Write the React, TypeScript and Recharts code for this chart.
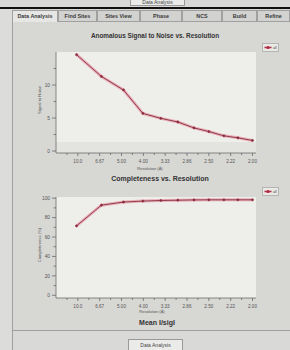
import React from "react";
import { LineChart, Line, XAxis, YAxis, CartesianGrid, ReferenceArea, Legend, Label } from "recharts";

// ---- data ----
const resolutionTickValues = [0.1, 0.15, 0.2, 0.25, 0.3, 0.35, 0.4, 0.45, 0.5];
const resolutionTickLabels = ["10.0", "6.67", "5.00", "4.00", "3.33", "2.86", "2.50", "2.22", "2.00"];
const resolutionMinorTicks = [0.075, 0.1, 0.125, 0.15, 0.175, 0.2, 0.225, 0.25, 0.275, 0.3, 0.325, 0.35, 0.375, 0.4, 0.425, 0.45, 0.475, 0.5];
const shellInvRes = [0.097, 0.154, 0.2045, 0.249, 0.29, 0.329, 0.366, 0.4, 0.4345, 0.4665, 0.5];
const signalToNoise = [14.6, 11.3, 9.25, 5.7, 4.95, 4.4, 3.5, 2.95, 2.3, 2.0, 1.6];
const completeness = [71.4, 92.8, 96.0, 97.0, 97.6, 97.9, 98.2, 98.3, 98.3, 98.3, 98.3];
const snTicks = [0, 2.5, 5, 7.5, 10, 12.5];
const compTicks = [0, 10, 20, 30, 40, 50, 60, 70, 80, 90, 100];
const tabLabels = ["Data Analysis", "Find Sites", "Sites View", "Phase", "NCS", "Build", "Refine"];
const seriesName = "all";

const snData = shellInvRes.map((s, i) => ({ s, v: signalToNoise[i] }));
const compData = shellInvRes.map((s, i) => ({ s, v: completeness[i] }));

const FONT = "'Liberation Sans', Arial, sans-serif";
const AXIS = "#6a6a6a";
const TXT = "#555";

function XTick(props: any) {
  const { x, y, payload } = props;
  const v = payload.value;
  const idx = resolutionTickValues.findIndex((t) => Math.abs(t - v) < 1e-6);
  const major = idx >= 0;
  return (
    <g>
      <line x1={x} x2={x} y1={y} y2={y + (major ? 3 : 2)} stroke={AXIS} strokeWidth={0.8} />
      {major && (
        <text x={x} y={y + 9.5} textAnchor="middle" fontSize={4.6} fill={TXT} fontFamily={FONT}>
          {resolutionTickLabels[idx]}
        </text>
      )}
    </g>
  );
}

function makeYTick(step: number) {
  return function YTick(props: any) {
    const { x, y, payload } = props;
    const v = payload.value;
    const major = Math.abs(v / step - Math.round(v / step)) < 1e-6;
    return (
      <g>
        <line x1={x} x2={x - (major ? 4 : 2.5)} y1={y} y2={y} stroke={AXIS} strokeWidth={0.8} />
        {major && (
          <text x={x - 6} y={y + 1.7} textAnchor="end" fontSize={4.8} fill={TXT} fontFamily={FONT}>
            {v}
          </text>
        )}
      </g>
    );
  };
}

const SnYTick = makeYTick(5);
const CompYTick = makeYTick(20);

function LegendBox() {
  return (
    <div
      style={{
        width: 17,
        height: 9,
        boxSizing: "border-box",
        background: "#e9e9e6",
        border: "1px solid #b4b4b4",
        position: "relative",
      }}
    >
      <svg width={15} height={7} style={{ position: "absolute", left: 0, top: 0 }}>
        <line x1={1.5} x2={8.5} y1={3.5} y2={3.5} stroke="#e59aa8" strokeWidth={2.5} />
        <line x1={1.5} x2={8.5} y1={3.5} y2={3.5} stroke="#8a2c3c" strokeWidth={0.8} />
        <circle cx={5} cy={3.5} r={1.6} fill="#b02a40" />
        <text x={10} y={5} fontSize={3.6} fill="#444" fontFamily={FONT}>
          {seriesName}
        </text>
      </svg>
    </div>
  );
}

function Series() {
  return null;
}

const dotStyle = { r: 1.1, fill: "#8a2c3c", stroke: "#8a2c3c", strokeWidth: 0.5 };

export default function App() {
  const tabEdges = [12, 58, 97, 140, 182, 222, 257, 290];
  return (
    <div
      style={{
        position: "absolute",
        left: 0,
        top: 0,
        width: 290,
        height: 350,
        overflow: "hidden",
        background: "#d6d6d3",
        fontFamily: FONT,
      }}
    >
      {/* top strip */}
      <div style={{ position: "absolute", left: 0, top: 0, width: 290, height: 7, background: "#d9d9d7" }} />
      <div
        style={{
          position: "absolute",
          left: 130,
          top: -4,
          width: 55,
          height: 10,
          boxSizing: "border-box",
          background: "#ebebea",
          border: "1px solid #9a9a9a",
          fontSize: 5,
          color: "#444",
          textAlign: "center",
          lineHeight: "10px",
        }}
      >
        Data Analysis
      </div>
      <div style={{ position: "absolute", left: 0, top: 7, width: 290, height: 1.5, background: "#111" }} />
      {/* left strip */}
      <div style={{ position: "absolute", left: 0, top: 9, width: 12, height: 341, background: "#dcdcda" }} />
      {/* tabs */}
      {tabLabels.map((t, i) => (
        <div
          key={t}
          style={{
            position: "absolute",
            left: tabEdges[i],
            top: 10,
            width: tabEdges[i + 1] - tabEdges[i],
            height: 12,
            boxSizing: "border-box",
            background: i === 0 ? "#e6e6e4" : "#d2d2d0",
            border: "1px solid #a0a0a0",
            borderBottom: i === 0 ? "none" : "1px solid #a0a0a0",
            fontSize: 5.4,
            fontWeight: 700,
            color: "#3a3a3a",
            textAlign: "center",
            lineHeight: "11px",
            whiteSpace: "nowrap",
          }}
        >
          {t}
        </div>
      ))}
      {/* panel */}
      <div
        style={{
          position: "absolute",
          left: 12,
          top: 22,
          width: 278,
          height: 308,
          boxSizing: "border-box",
          background: "#d7d7d4",
          borderLeft: "1px solid #a0a0a0",
        }}
      />
      {/* bottom area */}
      <div
        style={{
          position: "absolute",
          left: 12,
          top: 330,
          width: 278,
          height: 20,
          boxSizing: "border-box",
          background: "#d9d9d7",
          borderTop: "1px solid #a0a0a0",
          borderLeft: "1px solid #a0a0a0",
        }}
      />
      <div
        style={{
          position: "absolute",
          left: 128,
          top: 339,
          width: 55,
          height: 14,
          boxSizing: "border-box",
          background: "#ebebea",
          border: "1px solid #9a9a9a",
          fontSize: 5,
          color: "#444",
          textAlign: "center",
          lineHeight: "10px",
        }}
      >
        Data Analysis
      </div>

      {/* chart titles */}
      <div
        style={{
          position: "absolute",
          left: 55,
          width: 200,
          top: 32,
          fontSize: 6.4,
          fontWeight: 700,
          color: "#333",
          textAlign: "center",
          whiteSpace: "nowrap",
        }}
      >
        Anomalous Signal to Noise vs. Resolution
      </div>
      <div
        style={{
          position: "absolute",
          left: 55,
          width: 210,
          top: 175,
          fontSize: 7,
          fontWeight: 700,
          color: "#333",
          textAlign: "center",
          whiteSpace: "nowrap",
        }}
      >
        Completeness vs. Resolution
      </div>
      <div
        style={{
          position: "absolute",
          left: 55,
          width: 204,
          top: 319,
          fontSize: 7,
          fontWeight: 700,
          color: "#333",
          textAlign: "center",
          whiteSpace: "nowrap",
        }}
      >
        Mean I/sigI
      </div>

      {/* chart 1 */}
      <div style={{ position: "absolute", left: 0, top: 0 }}>
        <LineChart width={290} height={175} data={snData} margin={{ top: 43, right: 34, bottom: 0, left: 0 }}>
          <CartesianGrid horizontal={false} vertical={false} fill="#eeeeea" />
          <ReferenceArea y1={-0.3} y2={1.35} fill="#e3e3df" fillOpacity={1} stroke="none" ifOverflow="hidden" />
          <XAxis
            dataKey="s"
            type="number"
            domain={[0.05, 0.508]}
            ticks={resolutionMinorTicks}
            interval={0}
            tickSize={0}
            tickMargin={0}
            tick={<XTick />}
            tickLine={false}
            axisLine={{ stroke: AXIS, strokeWidth: 0.8 }}
            height={22}
            allowDataOverflow
          >
            <Label
              content={() => (
                <text x={150} y={169.5} textAnchor="middle" fontSize={4} fill={TXT} fontFamily={FONT}>
                  Resolution (Å)
                </text>
              )}
            />
          </XAxis>
          <YAxis
            type="number"
            domain={[-0.3, 15]}
            ticks={snTicks}
            interval={0}
            tickSize={0}
            tickMargin={0}
            tick={<SnYTick />}
            tickLine={false}
            axisLine={{ stroke: AXIS, strokeWidth: 0.8 }}
            width={56}
            allowDataOverflow
          >
            <Label
              content={() => (
                <text
                  x={40.5}
                  y={100}
                  transform="rotate(-90 40.5 100)"
                  textAnchor="middle"
                  fontSize={4.2}
                  fill={TXT}
                  fontFamily={FONT}
                >
                  Signal to Noise
                </text>
              )}
            />
          </YAxis>
          <Legend
            verticalAlign="top"
            align="right"
            content={() => <LegendBox />}
            wrapperStyle={{ position: "absolute", left: 262, top: 43, width: 17, height: 9 }}
          />
          <Line
            dataKey="v"
            stroke="#e8a2b0"
            strokeWidth={3}
            strokeOpacity={0.85}
            dot={false}
            legendType="none"
            isAnimationActive={false}
          />
          <Line
            dataKey="v"
            name={seriesName}
            stroke="#86303e"
            strokeWidth={0.9}
            dot={dotStyle}
            isAnimationActive={false}
          />
        </LineChart>
      </div>

      {/* chart 2 */}
      <div style={{ position: "absolute", left: 0, top: 175 }}>
        <LineChart width={290} height={145} data={compData} margin={{ top: 13, right: 34, bottom: 0, left: 0 }}>
          <CartesianGrid horizontal={false} vertical={false} fill="#eeeeea" />
          <XAxis
            dataKey="s"
            type="number"
            domain={[0.05, 0.508]}
            ticks={resolutionMinorTicks}
            interval={0}
            tickSize={0}
            tickMargin={0}
            tick={<XTick />}
            tickLine={false}
            axisLine={{ stroke: AXIS, strokeWidth: 0.8 }}
            height={22}
            allowDataOverflow
          >
            <Label
              content={() => (
                <text x={152} y={138} textAnchor="middle" fontSize={4} fill={TXT} fontFamily={FONT}>
                  Resolution (Å)
                </text>
              )}
            />
          </XAxis>
          <YAxis
            type="number"
            domain={[-2.8, 101.2]}
            ticks={compTicks}
            interval={0}
            tickSize={0}
            tickMargin={0}
            tick={<CompYTick />}
            tickLine={false}
            axisLine={{ stroke: AXIS, strokeWidth: 0.8 }}
            width={56}
            allowDataOverflow
          >
            <Label
              content={() => (
                <text
                  x={40.5}
                  y={70}
                  transform="rotate(-90 40.5 70)"
                  textAnchor="middle"
                  fontSize={4.2}
                  fill={TXT}
                  fontFamily={FONT}
                >
                  Completeness (%)
                </text>
              )}
            />
          </YAxis>
          <Legend
            verticalAlign="top"
            align="right"
            content={() => <LegendBox />}
            wrapperStyle={{ position: "absolute", left: 262, top: 12, width: 17, height: 9 }}
          />
          <Line
            dataKey="v"
            stroke="#e8a2b0"
            strokeWidth={3}
            strokeOpacity={0.85}
            dot={false}
            legendType="none"
            isAnimationActive={false}
          />
          <Line
            dataKey="v"
            name={seriesName}
            stroke="#86303e"
            strokeWidth={0.9}
            dot={dotStyle}
            isAnimationActive={false}
          />
        </LineChart>
      </div>
    </div>
  );
}
